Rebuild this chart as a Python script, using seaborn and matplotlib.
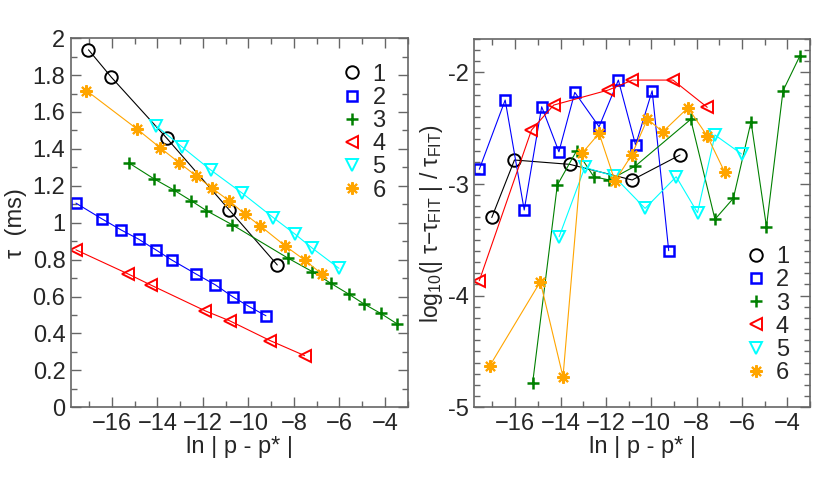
import numpy as np
import pandas as pd
import seaborn as sns
import matplotlib
matplotlib.use("Agg")
import matplotlib.pyplot as plt
from matplotlib.lines import Line2D
from matplotlib.ticker import MultipleLocator, FormatStrFormatter

# data
labels = ["1", "2", "3", "4", "5", "6"]
colors = ["black", "blue", "green", "red", "cyan", "orange"]
markers = ["o", "s", "+", "<", "v", (8, 2, 0)]

x1 = [-17.03, -16.03, -13.59, -10.84, -8.73]
x2 = [-17.58, -16.44, -15.6, -14.83, -14.07, -13.37, -12.3, -11.45, -10.69, -9.96, -9.23]
x3 = [-15.23, -14.14, -13.29, -12.53, -11.85, -10.7, -8.26, -7.19, -6.38, -5.6, -4.92, -4.19, -3.45]
x4 = [-17.58, -15.28, -14.3, -11.89, -10.83, -9.04, -7.53]
x5 = [-14.06, -12.93, -11.66, -10.27, -8.9, -7.96, -7.19, -6.02]
x6 = [-17.12, -14.89, -13.89, -13.05, -12.3, -11.6, -10.86, -10.17, -9.49, -8.38, -7.53, -6.77]

tau1 = [1.937, 1.789, 1.458, 1.069, 0.771]
tau2 = [1.106, 1.021, 0.961, 0.911, 0.853, 0.798, 0.722, 0.663, 0.599, 0.545, 0.496]
tau3 = [1.322, 1.237, 1.178, 1.120, 1.066, 0.988, 0.808, 0.735, 0.672, 0.614, 0.560, 0.509, 0.451]
tau4 = [0.853, 0.722, 0.663, 0.522, 0.469, 0.361, 0.280]
tau5 = [1.525, 1.412, 1.286, 1.160, 1.027, 0.939, 0.862, 0.753]
tau6 = [1.716, 1.507, 1.407, 1.326, 1.254, 1.187, 1.120, 1.048, 0.984, 0.874, 0.798, 0.722]

err1 = [-3.30, -2.785, -2.824, -2.964, -2.740]
err2 = [-2.868, -2.248, -3.233, -2.308, -2.711, -2.179, -2.487, -2.069, -2.651, -2.165, -3.597]
err3 = [-4.784, -3.009, -2.702, -2.935, -2.964, -2.839, -2.421, -3.316, -3.128, -2.442, -3.382, -2.165, -1.854]
err4 = [-3.866, -2.517, -2.293, -2.158, -2.069, -2.069, -2.313]
err5 = [-3.472, -2.851, -2.928, -3.218, -2.935, -3.257, -2.561, -2.731]
err6 = [-4.629, -3.875, -4.727, -2.725, -2.546, -2.973, -2.740, -2.418, -2.532, -2.317, -2.570, -2.890]

xs = [x1, x2, x3, x4, x5, x6]
taus = [tau1, tau2, tau3, tau4, tau5, tau6]
errs = [err1, err2, err3, err4, err5, err6]

sns.set_style("white")
plt.rcParams['font.family'] = ['Liberation Sans', 'DejaVu Sans']
plt.rcParams['mathtext.fontset'] = 'custom'
plt.rcParams['mathtext.rm'] = 'Liberation Sans'
plt.rcParams['mathtext.it'] = 'Liberation Sans'

msizes = [9, 7.5, 9, 9, 9, 9]
mews = [1.4, 1.8, 1.8, 1.4, 1.4, 1.5]

fig = plt.figure(figsize=(8.14, 4.8), dpi=100)
ax1 = fig.add_axes([0.0872, 0.1515, 0.4136, 0.769])
ax2 = fig.add_axes([0.5827, 0.1515, 0.4124, 0.7675])

for ax, ys in [(ax1, taus), (ax2, errs)]:
    for i in range(6):
        df = pd.DataFrame({"x": xs[i], "y": ys[i]})
        sns.lineplot(data=df, x="x", y="y", ax=ax, color=colors[i], lw=0.8,
                     sort=False, marker=markers[i], ms=msizes[i],
                     mfc='none', mec=colors[i], mew=mews[i], legend=False)

handles = [Line2D([], [], ls='none', marker=markers[i], color=colors[i], mfc='none',
                  mec=colors[i], ms=msizes[i], mew=mews[i]) for i in range(6)]

gray = '#666666'
for ax in (ax1, ax2):
    ax.set_xlim(-17.8, -3.0)
    ax.xaxis.set_major_locator(MultipleLocator(2))
    ax.xaxis.set_minor_locator(MultipleLocator(1))
    ax.tick_params(which='both', direction='in', bottom=True, left=True, top=True, right=True,
                   color=gray, labelsize=17, width=1)
    ax.tick_params(which='major', length=7, pad=4)
    ax.tick_params(which='minor', length=4)
    for s in ax.spines.values():
        s.set_color(gray)
        s.set_linewidth(1.2)
    ax.set_xlabel("ln | p - p* |", fontsize=17, labelpad=1)

leg_kw = dict(frameon=False, fontsize=17, handlelength=1.0, handletextpad=0.35,
              labelspacing=0.05, borderpad=0, borderaxespad=0)

ax1.set_ylim(0, 2)
ax1.yaxis.set_major_locator(MultipleLocator(0.2))
ax1.yaxis.set_minor_locator(MultipleLocator(0.1))
ax1.yaxis.set_major_formatter(FormatStrFormatter('%g'))
ax1.set_ylabel("τ  (ms)", fontsize=17, labelpad=4)
ax1.legend(handles, labels, loc='upper right', bbox_to_anchor=(0.935, 0.931), **leg_kw)

ax2.set_ylim(-5, -1.7)
ax2.yaxis.set_major_locator(MultipleLocator(1))
ax2.yaxis.set_minor_locator(MultipleLocator(0.1))
ax2.yaxis.set_major_formatter(FormatStrFormatter('%g'))
ax2.set_ylabel(r"log$_{10}$(| τ−τ$_{\rm FIT}$ | / τ$_{\rm FIT}$)", fontsize=16.5, labelpad=2)
ax2.legend(handles, labels, loc='lower right', bbox_to_anchor=(0.9375, 0.063), **leg_kw)

fig.savefig("out.png", dpi=100)
